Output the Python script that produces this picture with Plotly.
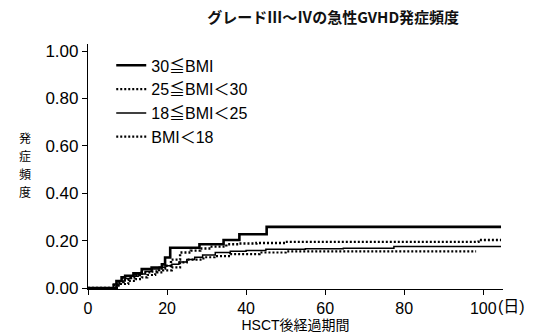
import plotly.graph_objects as go

# Cumulative incidence of grade III-IV acute GVHD by BMI group (step curves)
days_30 = [0, 7.2, 8.5, 9.4, 11.5, 13.6, 16.1, 18.7, 19.5, 20.8, 28.2, 34.3, 38.3, 45.2, 104.5]
inc_30 = [0, 0.03, 0.045, 0.052, 0.062, 0.08, 0.087, 0.10, 0.129, 0.17, 0.185, 0.203, 0.227, 0.258, 0.258]

days_25_30 = [0, 6.5, 7.7, 9.0, 10.2, 12.0, 13.6, 16.1, 18.0, 19.5, 21.0, 23.3, 26.0, 28.4, 31.0, 35.0, 38.0, 42.6, 50.0, 98.8, 104.5]
inc_25_30 = [0, 0.012, 0.025, 0.035, 0.045, 0.055, 0.066, 0.07, 0.082, 0.094, 0.12, 0.15, 0.158, 0.167, 0.175, 0.185, 0.188, 0.19, 0.195, 0.203, 0.203]

days_18_25 = [0, 6.4, 8.0, 9.4, 11.0, 12.7, 14.5, 16.1, 18.0, 19.5, 21.2, 23.0, 25.0, 27.0, 29.0, 32.2, 36.0, 40.0, 45.0, 55.0, 64.6, 77.4, 104.5]
inc_18_25 = [0, 0.017, 0.03, 0.04, 0.05, 0.059, 0.07, 0.08, 0.088, 0.094, 0.10, 0.11, 0.12, 0.13, 0.14, 0.15, 0.155, 0.158, 0.164, 0.166, 0.168, 0.175, 0.175]

days_lt18 = [0, 7.7, 10.2, 12.0, 13.6, 15.0, 17.0, 19.0, 21.2, 23.3, 25.0, 29.2, 32.0, 36.0, 43.4, 50.0, 98.2]
inc_lt18 = [0, 0.017, 0.03, 0.038, 0.045, 0.055, 0.066, 0.075, 0.087, 0.108, 0.12, 0.13, 0.135, 0.143, 0.15, 0.155, 0.155]

group_labels = ["30≦BMI", "25≦BMI＜30", "18≦BMI＜25", "BMI＜18"]
x_ticks = [0, 20, 40, 60, 80, 100]
y_ticks = [0, 0.2, 0.4, 0.6, 0.8, 1.0]

series = [
    (days_30, inc_30, dict(color="black", width=2.6, dash="solid")),
    (days_25_30, inc_25_30, dict(color="black", width=2.4, dash="2px,2px")),
    (days_18_25, inc_18_25, dict(color="black", width=1.5, dash="solid")),
    (days_lt18, inc_lt18, dict(color="black", width=2.2, dash="2px,2px")),
]

fig = go.Figure()
for (xs, ys, line), name in zip(series, group_labels):
    fig.add_trace(go.Scatter(
        x=xs, y=ys, mode="lines", name=name, line=line,
        line_shape="hv", legendgroup=name,
    ))

latin = "Liberation Sans, Arial, Noto Sans CJK JP"
cjk = "Noto Sans CJK JP"

fig.update_layout(
    width=534, height=333, autosize=False,
    margin=dict(l=88, r=31, t=44, b=44),
    paper_bgcolor="white", plot_bgcolor="white",
    font=dict(family=latin, color="black", size=15),
    title=dict(
        text="<b>グレードⅢ～Ⅳの急性GVHD発症頻度</b>",
        font=dict(family=cjk, size=15, color="#111"),
        x=0.624, xref="container", xanchor="center",
        y=0.948, yref="container", yanchor="middle",
    ),
    showlegend=True,
    legend=dict(
        x=0.056, y=0.982, xanchor="left", yanchor="top",
        bgcolor="rgba(0,0,0,0)", borderwidth=0,
        font=dict(family=latin, size=16, color="black"),
        tracegroupgap=3, traceorder="normal",
    ),
    xaxis=dict(
        range=[0, 105], tickvals=x_ticks, ticktext=[str(v) for v in x_ticks],
        showline=True, linecolor="black", linewidth=1.2,
        ticks="outside", ticklen=5, tickwidth=1.2, tickcolor="black",
        showgrid=False, zeroline=False, automargin=False,
        tickfont=dict(family=latin, size=16),
        title=dict(text="HSCT後経過期間", font=dict(family=latin, size=14), standoff=5),
    ),
    yaxis=dict(
        range=[-0.004, 1.03], tickvals=y_ticks, tickformat=".2f",
        showline=True, linecolor="black", linewidth=1.2,
        ticks="outside", ticklen=5, tickwidth=1.2, tickcolor="black",
        showgrid=False, zeroline=False, automargin=False,
        tickfont=dict(family=latin, size=17),
    ),
)

# vertical y-axis title, one character per row
for i, ch in enumerate("発症頻度"):
    fig.add_annotation(
        text=ch, xref="paper", yref="paper",
        x=-0.152, y=(289 - (137 + 18 * i)) / 245,
        xanchor="center", yanchor="middle", showarrow=False,
        font=dict(family=cjk, size=12, color="black"),
    )

# unit label after the last x tick
fig.add_annotation(
    text="(日)", xref="x", yref="paper", x=100, y=-0.072,
    xanchor="left", yanchor="middle", xshift=13, showarrow=False,
    font=dict(family=latin, size=16, color="black"),
)

fig.write_html("out.html")
